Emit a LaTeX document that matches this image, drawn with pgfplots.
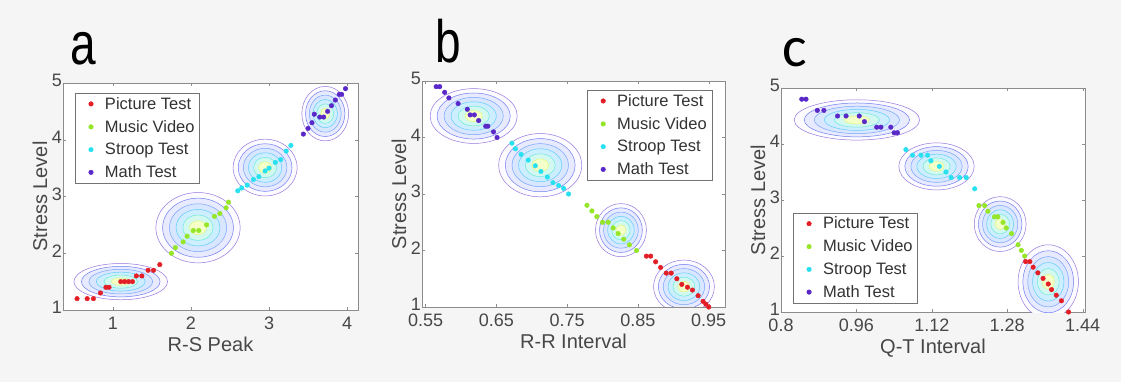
\documentclass[border=0pt]{standalone}
\usepackage{fontspec}
\setmainfont{Liberation Sans}
\newfontfamily\calib{Carlito}
\usepackage{graphicx}
\usepackage{pgfplots}
\pgfplotsset{compat=1.18}

\definecolor{cRed}{RGB}{228,30,38}
\definecolor{cGreen}{RGB}{150,230,40}
\definecolor{cCyan}{RGB}{40,225,240}
\definecolor{cPurple}{RGB}{90,40,200}
\definecolor{r1}{RGB}{150,120,220}
\definecolor{r2}{RGB}{115,125,240}
\definecolor{r3}{RGB}{120,165,250}
\definecolor{r4}{RGB}{100,205,250}
\definecolor{r5}{RGB}{110,232,220}
\definecolor{r6}{RGB}{225,248,130}
\definecolor{f1}{RGB}{252,251,255}
\definecolor{f2}{RGB}{232,235,255}
\definecolor{f3}{RGB}{216,230,255}
\definecolor{f4}{RGB}{205,238,255}
\definecolor{f5}{RGB}{210,248,240}
\definecolor{f6}{RGB}{245,255,200}

\newcommand{\contour}[4]{%
  \draw[r1, fill=f1, line width=0.5pt] (axis cs:#1,#2) ellipse [x radius=#3, y radius=#4];
  \draw[r2, fill=f2, line width=0.5pt] (axis cs:#1,#2) ellipse [x radius=0.84*#3, y radius=0.84*#4];
  \draw[r3, fill=f3, line width=0.5pt] (axis cs:#1,#2) ellipse [x radius=0.68*#3, y radius=0.68*#4];
  \draw[r4, fill=f4, line width=0.5pt] (axis cs:#1,#2) ellipse [x radius=0.52*#3, y radius=0.52*#4];
  \draw[r5, fill=f5, line width=0.5pt] (axis cs:#1,#2) ellipse [x radius=0.36*#3, y radius=0.36*#4];
  \draw[r6, fill=f6, line width=0.5pt] (axis cs:#1,#2) ellipse [x radius=0.20*#3, y radius=0.20*#4];
}

\pgfplotsset{
  panel/.style={
    scale only axis,
    anchor=north west,
    ymin=1, ymax=5,
    ytick={1,2,3,4,5},
    axis background/.style={fill=white},
    axis line style={black!45},
    major tick style={black!45},
    major tick length=3pt,
    tick label style={font=\fontsize{18}{18}\selectfont, text=black!72, inner sep=1pt},
    xticklabel style={yshift=-6pt},
    yticklabel style={yshift=2.5pt},
    label style={font=\fontsize{20}{20}\selectfont, text=black!72},
    xlabel style={yshift=-3pt},
    /pgf/number format/assume math mode=true,
    ylabel={Stress Level},
    legend cell align=left,
    legend style={font=\fontsize{16.5}{19}\selectfont, draw=black!55, text=black!80,
                  inner xsep=3pt, inner ysep=2pt, row sep=5.5pt},
    legend image code/.code={%
      \path[draw=none, fill=none] (0pt,0pt) (25pt,0pt);
      \path[##1, draw=none] plot[only marks, mark=*, mark size=2.3pt] coordinates {(13pt,0pt)};},
    every axis plot/.append style={only marks, mark=*, mark size=2.3pt},
  }
}

\begin{document}
\begin{tikzpicture}
\fill[black!4] (0pt,0pt) rectangle (1121pt,-382pt);
\useasboundingbox (0pt,0pt) rectangle (1121pt,-382pt);

\node[anchor=base west, inner sep=0pt] at (70pt,-65pt) {\fontsize{46}{46}\selectfont\scalebox{1}[1.3]{a}};
\node[anchor=base west, inner sep=0pt] at (435pt,-63pt) {\fontsize{46}{46}\selectfont\scalebox{1}[1.3]{b}};
\node[anchor=base west, inner sep=0pt] at (782pt,-67pt) {\calib\fontsize{58}{58}\selectfont c};

% ---------- panel a ----------
\begin{axis}[panel, at={(63pt,-83pt)}, width=295pt, height=227pt,
  xmin=0.36, xmax=4.14, xtick={1,2,3,4},
  xlabel={R-S Peak},
  legend style={at={(0.04,0.956)}, anchor=north west}]
\contour{1.1}{1.5}{0.6}{0.32}
\contour{2.09}{2.45}{0.54}{0.62}
\contour{2.95}{3.51}{0.41}{0.5}
\contour{3.72}{4.46}{0.30}{0.48}
\addplot[cRed] coordinates {(0.54,1.2)(0.67,1.2)(0.75,1.2)(0.84,1.3)(0.91,1.4)(0.95,1.4)(1.1,1.5)(1.15,1.5)(1.2,1.5)(1.25,1.5)(1.3,1.6)(1.37,1.6)(1.45,1.7)(1.52,1.7)(1.6,1.8)};
\addplot[cGreen] coordinates {(1.75,2.0)(1.8,2.1)(1.9,2.2)(1.95,2.3)(2.03,2.4)(2.1,2.4)(2.2,2.5)(2.3,2.65)(2.37,2.7)(2.45,2.8)(2.48,2.9)};
\addplot[cCyan] coordinates {(2.6,3.1)(2.65,3.15)(2.72,3.2)(2.8,3.3)(2.87,3.35)(2.95,3.45)(3.0,3.5)(3.08,3.6)(3.15,3.65)(3.22,3.8)(3.28,3.9)};
\addplot[cPurple] coordinates {(3.44,4.1)(3.5,4.2)(3.55,4.3)(3.58,4.45)(3.65,4.4)(3.7,4.4)(3.75,4.5)(3.8,4.6)(3.85,4.7)(3.9,4.8)(3.93,4.8)(3.98,4.9)};
\legend{Picture Test, Music Video, Stroop Test, Math Test}
\end{axis}

% ---------- panel b ----------
\begin{axis}[panel, at={(422pt,-81pt)}, width=303pt, height=226pt,
  xmin=0.545, xmax=0.973, xtick={0.55,0.65,0.75,0.85,0.95},
  xticklabels={0.55,0.65,0.75,0.85,0.95},
  xlabel={R-R Interval},
  legend style={at={(0.957,0.96)}, anchor=north east}]
\contour{0.618}{4.38}{0.0615}{0.485}
\contour{0.712}{3.51}{0.0587}{0.56}
\contour{0.826}{2.36}{0.036}{0.47}
\contour{0.915}{1.36}{0.043}{0.47}
\addplot[cRed] coordinates {(0.862,1.9)(0.868,1.9)(0.875,1.8)(0.882,1.7)(0.89,1.6)(0.897,1.6)(0.905,1.5)(0.912,1.4)(0.92,1.35)(0.927,1.3)(0.935,1.2)(0.942,1.1)(0.946,1.05)(0.95,1.0)};
\addplot[cGreen] coordinates {(0.778,2.8)(0.785,2.7)(0.792,2.6)(0.8,2.5)(0.808,2.5)(0.815,2.4)(0.822,2.3)(0.83,2.2)(0.838,2.1)(0.848,2.0)};
\addplot[cCyan] coordinates {(0.672,3.9)(0.677,3.8)(0.685,3.7)(0.695,3.6)(0.705,3.5)(0.713,3.4)(0.722,3.3)(0.73,3.2)(0.738,3.15)(0.745,3.1)(0.752,3.0)};
\addplot[cPurple] coordinates {(0.565,4.9)(0.57,4.9)(0.577,4.8)(0.583,4.7)(0.596,4.6)(0.609,4.5)(0.613,4.4)(0.619,4.4)(0.625,4.3)(0.635,4.2)(0.638,4.2)(0.646,4.1)(0.651,4.0)};
\legend{Picture Test, Music Video, Stroop Test, Math Test}
\end{axis}

% ---------- panel c ----------
\begin{axis}[panel, at={(781pt,-88pt)}, width=304pt, height=224pt,
  xmin=0.8, xmax=1.445, xtick={0.8,0.96,1.12,1.28,1.44},
  xticklabels={0.8,0.96,1.12,1.28,1.44},
  xlabel={Q-T Interval},
  legend style={at={(0.039,0.04)}, anchor=south west}]
\contour{0.961}{4.43}{0.133}{0.36}
\contour{1.130}{3.6}{0.08}{0.42}
\contour{1.265}{2.57}{0.055}{0.49}
\contour{1.367}{1.54}{0.064}{0.66}
\addplot[cRed] coordinates {(1.319,1.9)(1.328,1.9)(1.335,1.8)(1.345,1.7)(1.356,1.6)(1.367,1.5)(1.374,1.4)(1.384,1.3)(1.395,1.2)(1.41,1.0)};
\addplot[cGreen] coordinates {(1.22,2.9)(1.232,2.9)(1.239,2.8)(1.253,2.7)(1.26,2.7)(1.271,2.6)(1.278,2.5)(1.289,2.4)(1.303,2.2)(1.31,2.1)(1.317,2.0)};
\addplot[cCyan] coordinates {(1.065,3.9)(1.079,3.8)(1.097,3.8)(1.111,3.8)(1.118,3.7)(1.136,3.6)(1.15,3.5)(1.161,3.4)(1.179,3.4)(1.193,3.4)(1.211,3.2)};
\addplot[cPurple] coordinates {(0.844,4.8)(0.853,4.8)(0.877,4.6)(0.891,4.6)(0.92,4.5)(0.938,4.5)(0.966,4.5)(0.977,4.4)(1.003,4.3)(1.012,4.3)(1.033,4.3)(1.04,4.2)(1.047,4.2)};
\legend{Picture Test, Music Video, Stroop Test, Math Test}
\end{axis}
\end{tikzpicture}
\end{document}
